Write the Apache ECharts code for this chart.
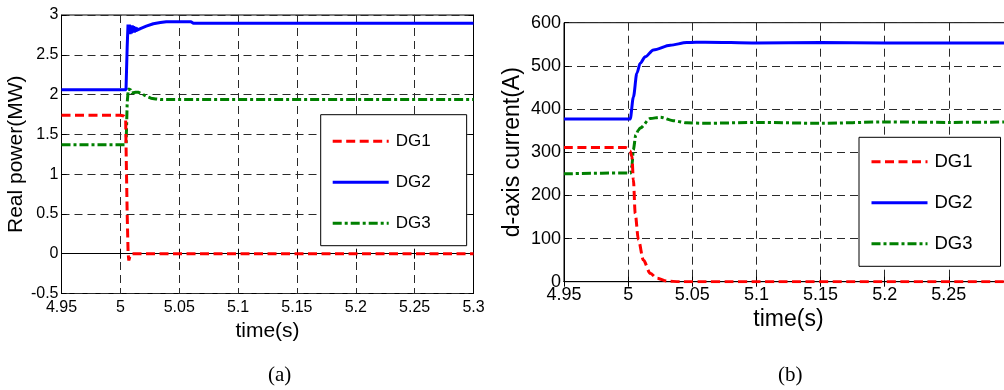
<!DOCTYPE html>
<html><head><meta charset="utf-8">
<script src="https://cdn.jsdelivr.net/npm/echarts@6/dist/echarts.min.js"></script>
<style>html,body{margin:0;padding:0;background:#fff;overflow:hidden}#c{width:1030px;height:390px}</style>
</head><body><div id="c"></div>
<script>
// ---- Data: (a) Real power (MW) ----
const tA_DG1 = [4.95, 5.0, 5.003, 5.0045, 5.005, 5.0058, 5.0066, 5.0072, 5.008, 5.0093, 5.3];
const pDG1   = [1.74, 1.74, 1.73, 1.70, 1.2, 0.5, 0.0, -0.085, -0.04, 0, 0];
const tA_DG2 = [4.95, 5.0048, 5.0058, 5.0065, 5.0071, 5.0077, 5.0083, 5.0089, 5.0095, 5.0101, 5.0107, 5.0113, 5.0119, 5.0125, 5.0131, 5.0137, 5.0142, 5.017, 5.022, 5.028, 5.034, 5.039, 5.06, 5.062, 5.3];
const pDG2   = [2.06, 2.06, 2.6, 2.88, 2.76, 2.88, 2.76, 2.87, 2.77, 2.87, 2.78, 2.86, 2.78, 2.85, 2.79, 2.84, 2.81, 2.83, 2.86, 2.89, 2.905, 2.915, 2.915, 2.895, 2.895];
const tA_DG3 = [4.95, 5.0049, 5.0058, 5.0068, 5.0078, 5.0088, 5.0098, 5.0108, 5.013, 5.015, 5.018, 5.022, 5.026, 5.03, 5.035, 5.3];
const pDG3   = [1.37, 1.37, 1.9, 2.07, 2.095, 2.06, 2.02, 2.015, 2.03, 2.03, 2.01, 1.98, 1.955, 1.945, 1.937, 1.937];

// ---- Data: (b) d-axis current (A) ----
const tB_DG1 = [4.95, 4.998, 5.0002, 5.0015, 5.0029, 5.0041, 5.0055, 5.008, 5.0119, 5.0172, 5.0224, 5.0302, 5.04, 5.3];
const iDG1   = [311, 311, 309, 303, 290, 236, 158, 97, 50, 19.5, 8, 1.5, 0, 0];
const tB_DG2 = [4.95, 5.0016, 5.0041, 5.0068, 5.0094, 5.0133, 5.0197, 5.0328, 5.0458, 5.06, 5.1, 5.15, 5.2, 5.25, 5.3];
const iDG2   = [377, 377, 428, 483, 506, 521, 537, 548, 554, 555, 553, 554, 553, 553, 553];
const tB_DG3 = [4.95, 5.002, 5.003, 5.004, 5.006, 5.008, 5.0094, 5.0172, 5.025, 5.035, 5.0458, 5.06, 5.1, 5.15, 5.2, 5.25, 5.3];
const iDG3   = [250, 252, 270, 305, 340, 351, 356, 378, 381, 373, 368, 367, 369, 367, 370, 369, 370];

const names = ['DG1', 'DG2', 'DG3'];
const captions = ['(a)', '(b)'];
const titlesY = ['Real power(MW)', 'd-axis current(A)'];
const titleX = 'time(s)';

const zip = (t, v) => t.map((x, i) => [x, v[i]]);
const FONT = "'Liberation Sans', Arial, sans-serif";
const styles = [
  { color: '#ff0000', width: 3, type: [9, 4.5] },
  { color: '#0000ff', width: 3, type: 'solid' },
  { color: '#008000', width: 3, type: [9, 3, 3, 3] }
];
function mkSeries(name, idx, data, si, smooth) {
  const s = styles[si];
  return {
    name: name, type: 'line', xAxisIndex: idx, yAxisIndex: idx, data: data,
    symbol: 'none', showSymbol: false, animation: false,
    smooth: smooth || false, smoothMonotone: 'x',
    lineStyle: { color: s.color, width: s.width, type: s.type },
    itemStyle: { color: s.color }, z: 3 - si + 2
  };
}
const splitLine = { show: true, lineStyle: { color: '#2a2a2a', width: 1, type: [8, 5] } };
const axisLine = { show: true, lineStyle: { color: '#000', width: 1 } };
function xAx(grid, fs, margin, gap, showMax) {
  return {
    type: 'value', gridIndex: grid, min: 4.95, max: 5.3, interval: 0.05,
    axisLine: axisLine, axisTick: { show: true, inside: true, length: 5, lineStyle: { color: '#000' } },
    axisLabel: { color: '#000', fontSize: fs, fontFamily: FONT, margin: margin, showMaxLabel: showMax },
    splitLine: splitLine,
    name: titleX, nameLocation: 'middle', nameGap: gap,
    nameTextStyle: { color: '#000', fontSize: fs + 5, fontFamily: FONT }
  };
}
function yAx(grid, min, max, interval, fs, name, gap) {
  return {
    type: 'value', gridIndex: grid, min: min, max: max, interval: interval,
    axisLine: axisLine, axisTick: { show: true, inside: true, length: 5, lineStyle: { color: '#000' } },
    axisLabel: { color: '#000', fontSize: fs, fontFamily: FONT, margin: 3 },
    splitLine: splitLine,
    name: name, nameLocation: 'middle', nameGap: gap,
    nameTextStyle: { color: '#000', fontSize: fs + 5, fontFamily: FONT }
  };
}
function boxX(grid) {
  return { type: 'value', gridIndex: grid, position: 'top', min: 4.95, max: 5.3, interval: 0.05,
    axisLine: axisLine, axisTick: { show: true, inside: true, length: 5, lineStyle: { color: '#000' } },
    axisLabel: { show: false }, splitLine: { show: false } };
}
function boxY(grid, min, max, interval) {
  return { type: 'value', gridIndex: grid, position: 'right', min: min, max: max, interval: interval,
    axisLine: axisLine, axisTick: { show: true, inside: true, length: 5, lineStyle: { color: '#000' } },
    axisLabel: { show: false }, splitLine: { show: false } };
}
function legend(left, top, fs, iw, gap, pad) {
  return {
    data: names, orient: 'vertical', left: left, top: top,
    itemWidth: iw, itemHeight: 14, itemGap: gap,
    padding: pad, backgroundColor: '#fff', borderColor: '#000', borderWidth: 1, borderRadius: 0,
    itemStyle: { opacity: 0 },
    lineStyle: { width: 3 },
    textStyle: { color: '#000', fontSize: fs, fontFamily: FONT, padding: [0, 0, 0, 2] },
    selectedMode: false
  };
}

const chart = echarts.init(document.getElementById('c'), null, { renderer: 'canvas' });
chart.setOption({
  animation: false,
  backgroundColor: '#fff',
  grid: [
    { left: 61.5, top: 15, width: 412, height: 278.5, show: true, borderColor: '#000', borderWidth: 1, backgroundColor: 'transparent' },
    { left: 564, top: 22.7, width: 449, height: 259, show: true, borderColor: '#000', borderWidth: 1, backgroundColor: 'transparent' }
  ],
  xAxis: [xAx(0, 16, 6, 23, true), xAx(1, 18, 4, 24, false), boxX(0), boxX(1)],
  yAxis: [yAx(0, -0.5, 3, 0.5, 16, titlesY[0], 33), yAx(1, 0, 600, 100, 18, titlesY[1], 40),
          boxY(0, -0.5, 3, 0.5), boxY(1, 0, 600, 100)],
  legend: [
    legend(320.7, 114.7, 17, 56, 24, [18, 36, 14, 10.5]),
    legend(859, 137.3, 18.5, 56, 22, [15, 28, 13, 11])
  ],
  series: [
    mkSeries(names[0], 0, zip(tA_DG1, pDG1), 0),
    mkSeries(names[1], 0, zip(tA_DG2, pDG2), 1),
    mkSeries(names[2], 0, zip(tA_DG3, pDG3), 2),
    mkSeries(names[0], 1, zip(tB_DG1, iDG1), 0, 0.3),
    mkSeries(names[1], 1, zip(tB_DG2, iDG2), 1, 0.3),
    mkSeries(names[2], 1, zip(tB_DG3, iDG3), 2, 0.3)
  ],
  graphic: [
    { type: 'text', left: 268, top: 365, style: { text: captions[0], font: "21px 'Liberation Serif', 'Times New Roman', serif", fill: '#000' } },
    { type: 'text', left: 778, top: 365, style: { text: captions[1], font: "21px 'Liberation Serif', 'Times New Roman', serif", fill: '#000' } }
  ]
});
</script></body></html>
